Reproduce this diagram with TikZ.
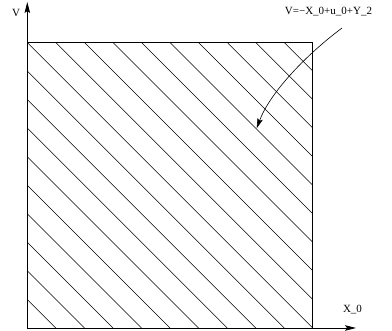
\documentclass[tikz,border=0pt]{standalone}
\usepackage{fontspec}
\setmainfont{Liberation Serif}
\usetikzlibrary{arrows.meta}
\begin{document}
\begin{tikzpicture}[x=1pt,y=-1pt,
  lbl/.style={inner sep=0pt,font=\fontsize{11}{13}\selectfont},
  axisline/.style={line width=0.8pt,-{Stealth[length=11pt,width=5.5pt,inset=2pt]}},
  border/.style={line width=0.8pt},
  hatch/.style={line width=0.55pt},
  pointer/.style={line width=0.6pt,-{Stealth[length=10pt,width=5.5pt,inset=2pt]}}]
\useasboundingbox (0,0) rectangle (392,331);
\def\L{27.3}\def\T{42.5}\def\S{285.5}\def\D{28.55}
% hatching
\foreach \k in {-9,...,9}{
  \pgfmathsetmacro{\d}{\k*\D}
  \ifnum\k<0
    \draw[hatch] (\L,\T-\d) -- (\L+\S+\d,\T+\S);
  \else
    \draw[hatch] (\L+\d,\T) -- (\L+\S,\T+\S-\d);
  \fi
}
% square
\draw[border] (\L,\T) rectangle (\L+\S,\T+\S);
% axes
\coordinate (O) at (\L,\T+\S);
\coordinate (ytip) at (\L,2);
\coordinate (xtip) at (356,\T+\S);
\draw[axisline] (O) -- (ytip);
\draw[axisline] (O) -- (xtip);
% labels
\node[lbl] (vlab) at (16,12.5) {V};
\node[lbl] (xlab) at (352.5,310) {X\_0};
\node[lbl] (eq) at (328.5,12) {V=−X\_0+u\_0+Y\_2};
\coordinate (cs) at (342,28);
\coordinate (ce) at (256.7,128.3);
\draw[pointer] (cs) .. controls (302,58) and (269,95) .. (ce);
\end{tikzpicture}
\end{document}
